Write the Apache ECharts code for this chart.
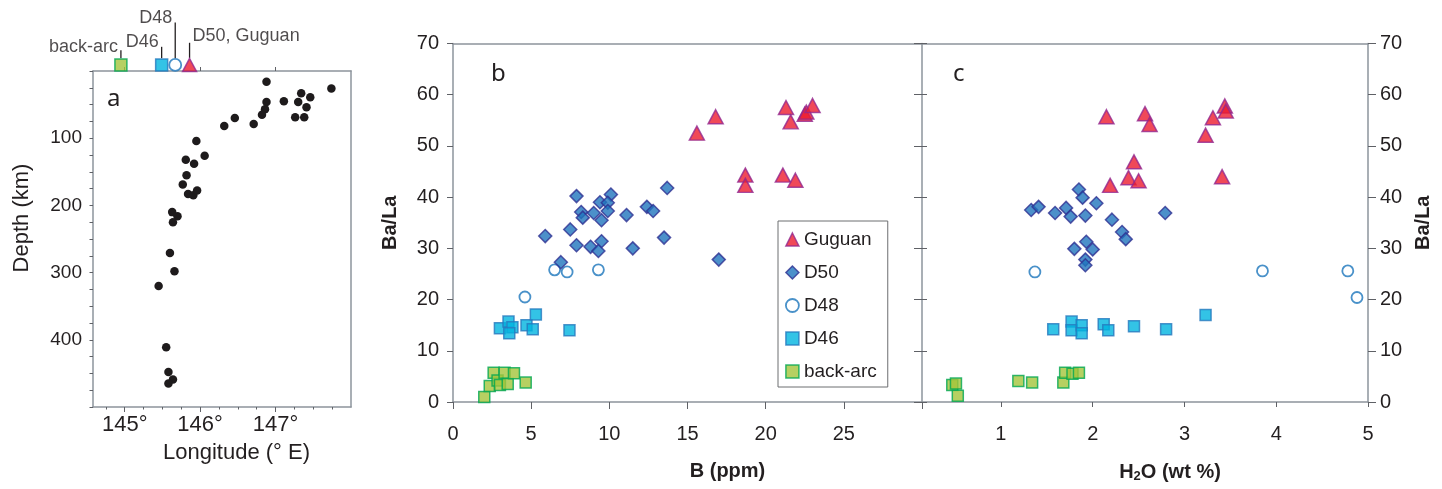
<!DOCTYPE html>
<html><head><meta charset="utf-8">
<script src="https://cdn.jsdelivr.net/npm/echarts@6/dist/echarts.min.js"></script>
<style>html,body{margin:0;padding:0;background:#fff}#c{width:1442px;height:489px}</style>
</head><body><div id="c"></div>
<script>
// ---------- DATA ----------
// Panel a: earthquake hypocentres
const quakeLon = [146.88,147.74,147.34,147.46,147.11,146.88,147.30,147.41,146.86,146.82,147.26,147.38,146.46,146.32,146.71,145.95,146.06,145.81,145.92,145.82,145.77,145.84,145.91,145.96,145.63,145.70,145.64,145.60,145.66,145.45,145.55,145.58,145.64,145.58];
const quakeDepth = [16,26,33,39,45,46,46,54,57,65,69,69,70,82,79,104,126,132,138,155,169,183,185,178,210,216,225,271,298,320,411,448,459,465];
// Panel a: sample locations above the frame
const siteLon = [144.95,145.49,145.67,145.86];
const siteKeys = ['back-arc','D46','D48','Guguan'];
const siteLabel = ['back-arc','D46','D48','D50, Guguan'];
const siteLabelDepth = [-31,-36,-72,-42];
const siteMarkDepth = -9;
// Panel b: B (ppm) vs Ba/La
const guguanB = [[15.6,52.5],[16.8,55.7],[21.3,57.5],[21.6,54.7],[22.5,56.2],[22.6,56.6],[23.0,57.9],[18.7,44.3],[18.7,42.3],[21.1,44.3],[21.9,43.3]];
const d50B = [[13.7,41.8],[7.9,40.2],[10.1,40.5],[9.4,39.0],[9.9,38.9],[8.2,37.1],[9.0,36.9],[9.9,37.3],[8.3,36.0],[9.5,35.5],[11.1,36.5],[12.4,38.1],[12.8,37.3],[5.9,32.4],[7.5,33.7],[13.5,32.1],[7.9,30.6],[8.8,30.3],[9.5,31.4],[9.3,29.5],[11.5,30.0],[6.9,27.3],[17.0,27.8]];
const d48B = [[6.5,25.8],[7.3,25.4],[9.3,25.8],[4.6,20.5]];
const d46B = [[3.0,14.4],[3.55,15.7],[3.8,14.6],[3.6,13.4],[4.7,15.0],[5.1,14.2],[5.3,17.1],[7.45,14.0]];
const backarcB = [[2.0,1.0],[2.35,3.1],[2.6,5.7],[2.85,4.2],[3.0,3.3],[3.3,5.7],[3.5,3.5],[3.9,5.6],[4.65,3.8]];
// Panel c: H2O (wt %) vs Ba/La
const guguanH = [[2.15,55.7],[2.57,56.3],[2.62,54.2],[2.45,46.9],[2.39,43.8],[2.50,43.2],[2.19,42.3],[3.23,52.1],[3.31,55.5],[3.44,57.8],[3.45,56.8],[3.41,44.0]];
const d50H = [[1.85,41.5],[1.89,39.9],[2.04,38.8],[1.33,37.5],[1.41,38.1],[1.59,36.9],[1.71,37.9],[1.76,36.2],[1.92,36.4],[2.21,35.6],[2.32,33.2],[2.36,31.8],[1.80,29.9],[1.93,31.3],[2.0,29.8],[1.92,27.8],[1.92,26.7],[2.79,36.9]];
const d48H = [[1.37,25.4],[3.85,25.6],[4.78,25.6],[4.88,20.4]];
const d46H = [[1.57,14.2],[1.77,15.7],[1.77,14.0],[1.88,15.0],[1.88,13.4],[2.12,15.2],[2.17,14.0],[2.45,14.8],[2.80,14.2],[3.23,17.0]];
const backarcH = [[0.47,3.3],[0.51,3.6],[0.53,1.2],[1.19,4.1],[1.34,3.8],[1.68,3.8],[1.70,5.7],[1.78,5.5],[1.85,5.7]];
// Tick values
const lonTicks = [145,146,147];
const lonMinor = [144.75,145.25,145.5,145.75,146.25,146.5,146.75,147.25,147.5,147.75];
const depthLabels = [100,200,300,400];
const bTicks = [0,5,10,15,20,25,30];
const bLabels = [0,5,10,15,20,25];
const hTicks = [1,2,3,4,5];
const legendOrder = ['Guguan','D50','D48','D46','back-arc'];

// ---------- STYLE ----------
const TXT = '#231f20';
const AX = '#8d949c';
const TK = '#5f6166';
const FF = '"Liberation Sans", Arial, sans-serif';
const sty = {
  'Guguan':  {symbol:'triangle', symbolSize:[15,14], itemStyle:{color:'#ec1c2e', borderColor:'#92278f', borderWidth:1.5}},
  'D50':     {symbol:'diamond', symbolSize:13, itemStyle:{color:'#1f74bd', borderColor:'#2e3192', borderWidth:1.5}},
  'D48':     {symbol:'circle', symbolSize:11, itemStyle:{color:'#ffffff', borderColor:'#1c75bc', borderWidth:1.8}},
  'D46':     {symbol:'rect', symbolSize:11, itemStyle:{color:'#00b4e0', borderColor:'#2679be', borderWidth:1.5}},
  'back-arc':{symbol:'rect', symbolSize:11, itemStyle:{color:'#a4c43b', borderColor:'#00a651', borderWidth:1.5}}
};

function line(show){ return {show:show!==false, onZero:false, lineStyle:{color:AX, width:1.5}}; }
function noTick(){ return {show:false}; }

const xAxis = [
  // panel a bottom
  {gridIndex:0, type:'value', position:'bottom', min:144.58, max:148, axisLine:line(),
   axisTick:{show:true, customValues:lonTicks, length:5, lineStyle:{color:TK}},
   axisLabel:{customValues:lonTicks, formatter:v=>v+'°', fontSize:22, color:TXT, fontFamily:FF, margin:7},
   splitLine:{show:false},
   name:'Longitude (° E)', nameLocation:'middle', nameGap:35,
   nameTextStyle:{fontSize:22, color:TXT, fontFamily:FF, padding:[0,0,0,29]}},
  // panel a bottom minor ticks
  {gridIndex:0, type:'value', position:'bottom', min:144.58, max:148, axisLine:line(false),
   axisTick:{show:true, customValues:lonMinor, length:2.5, lineStyle:{color:TK}},
   axisLabel:{show:false}, splitLine:{show:false}},
  // panel a top
  {gridIndex:0, type:'value', position:'top', min:144.58, max:148, axisLine:line(),
   axisTick:{show:true, customValues:lonTicks, length:4, lineStyle:{color:TK}},
   axisLabel:{show:false}, splitLine:{show:false}},
  // panel b bottom
  {gridIndex:1, type:'value', position:'bottom', min:0, max:30, axisLine:line(),
   axisTick:{show:true, customValues:bTicks, length:7, lineStyle:{color:TK}},
   axisLabel:{customValues:bLabels, fontSize:20, color:TXT, fontFamily:FF, margin:22},
   splitLine:{show:false},
   name:'B (ppm)', nameLocation:'middle', nameGap:59,
   nameTextStyle:{fontSize:20, fontWeight:'bold', color:TXT, fontFamily:FF, padding:[0,0,0,80]}},
  // panel b top
  {gridIndex:1, type:'value', position:'top', min:0, max:30, axisLine:line(), axisTick:noTick(), axisLabel:{show:false}, splitLine:{show:false}},
  // panel c bottom
  {gridIndex:2, type:'value', position:'bottom', min:0.14, max:5, axisLine:line(),
   axisTick:{show:true, customValues:hTicks, length:5, lineStyle:{color:TK}},
   axisLabel:{customValues:hTicks, fontSize:20, color:TXT, fontFamily:FF, margin:22},
   splitLine:{show:false},
   name:'{m|H}{s|2}{m|O (wt %)}', nameLocation:'middle', nameGap:59,
   nameTextStyle:{color:TXT, fontFamily:FF, padding:[0,0,0,50],
     rich:{m:{fontSize:20, fontWeight:'bold', color:TXT, fontFamily:FF},
           s:{fontSize:13, fontWeight:'bold', color:TXT, fontFamily:FF, padding:[9,0,0,0]}}}},
  // panel c top
  {gridIndex:2, type:'value', position:'top', min:0.14, max:5, axisLine:line(), axisTick:noTick(), axisLabel:{show:false}, splitLine:{show:false}}
];

const yAxis = [
  // panel a left
  {gridIndex:0, type:'value', position:'left', min:0, max:500, interval:100, inverse:true, axisLine:line(),
   axisTick:{show:true, length:3.5, lineStyle:{color:TK}},
   minorTick:{show:true, splitNumber:4, length:3.5, lineStyle:{color:TK}},
   axisLabel:{customValues:depthLabels, fontSize:19, color:TXT, fontFamily:FF, margin:11},
   splitLine:{show:false}, minorSplitLine:{show:false},
   name:'Depth (km)', nameLocation:'middle', nameGap:60, nameRotate:90,
   nameTextStyle:{fontSize:22, color:TXT, fontFamily:FF, padding:[0,0,0,42]}},
  // panel a right
  {gridIndex:0, type:'value', position:'right', min:0, max:500, inverse:true, axisLine:line(), axisTick:noTick(), axisLabel:{show:false}, splitLine:{show:false}},
  // panel b left
  {gridIndex:1, type:'value', position:'left', min:0, max:70, interval:10, axisLine:line(),
   axisTick:{show:true, length:6, lineStyle:{color:TK}},
   axisLabel:{fontSize:20, color:TXT, fontFamily:FF, margin:14},
   splitLine:{show:false},
   name:'Ba/La', nameLocation:'middle', nameGap:53, nameRotate:90,
   nameTextStyle:{fontSize:20, fontWeight:'bold', color:TXT, fontFamily:FF}},
  // panel c left (outer ticks)
  {gridIndex:2, type:'value', position:'left', min:0, max:70, interval:10, axisLine:line(),
   axisTick:{show:true, length:8, lineStyle:{color:TK}}, axisLabel:{show:false}, splitLine:{show:false}},
  // panel c left (inner ticks)
  {gridIndex:2, type:'value', position:'left', min:0, max:70, interval:10, axisLine:line(false),
   axisTick:{show:true, inside:true, length:5, lineStyle:{color:TK}}, axisLabel:{show:false}, splitLine:{show:false}},
  // panel c right
  {gridIndex:2, type:'value', position:'right', min:0, max:70, interval:10, axisLine:line(),
   axisTick:{show:true, length:8, lineStyle:{color:TK}},
   axisLabel:{fontSize:20, color:TXT, fontFamily:FF, margin:12},
   splitLine:{show:false},
   name:'Ba/La', nameLocation:'middle', nameGap:45, nameRotate:90,
   nameTextStyle:{fontSize:20, fontWeight:'bold', color:TXT, fontFamily:FF}}
];

const series = [];
// panel a quakes
series.push({type:'scatter', name:'quakes', xAxisIndex:0, yAxisIndex:0,
  data: quakeLon.map((l,i)=>[l, quakeDepth[i]]), symbol:'circle', symbolSize:8.5,
  itemStyle:{color:'#1e1b1c', opacity:1}, silent:true});
// panel a site markers, leader lines and labels
siteLon.forEach((lon,i)=>{
  series.push({type:'line', name:'lead'+i, xAxisIndex:0, yAxisIndex:0, clip:false, silent:true,
    symbol:'none', data:[[lon, siteMarkDepth-10],[lon, siteLabelDepth[i]]],
    lineStyle:{color:'#231f20', width:1.3}});
  const pos = i===3 ? 'right' : 'left';
  const off = i===3 ? [0,-7] : (i===0 ? [0,-3] : [0,-5]);
  series.push({type:'scatter', name:'lab'+i, xAxisIndex:0, yAxisIndex:0, clip:false, silent:true,
    data:[[lon, siteLabelDepth[i]]], symbolSize:0,
    label:{show:true, formatter:siteLabel[i], position:pos, distance:3, offset:off,
      fontSize:18, color:TXT, fontFamily:FF}});
});
siteLon.forEach((lon,i)=>{
  const s = sty[siteKeys[i]];
  series.push({type:'scatter', name:'site'+i, xAxisIndex:0, yAxisIndex:0, clip:false, silent:true,
    data:[[lon, siteMarkDepth]], symbol:s.symbol, symbolSize: i===3 ? [14,13] : 12, itemStyle:s.itemStyle, z:5});
});
// panels b and c
const bSets = {'back-arc':backarcB, 'D46':d46B, 'D48':d48B, 'D50':d50B, 'Guguan':guguanB};
const cSets = {'back-arc':backarcH, 'D46':d46H, 'D48':d48H, 'D50':d50H, 'Guguan':guguanH};
['back-arc','D46','D48','D50','Guguan'].forEach(k=>{
  const s = sty[k];
  series.push({type:'scatter', name:k, xAxisIndex:3, yAxisIndex:2, data:bSets[k],
    symbol:s.symbol, symbolSize:s.symbolSize, itemStyle:s.itemStyle});
  series.push({type:'scatter', name:k, xAxisIndex:5, yAxisIndex:5, data:cSets[k],
    symbol:s.symbol, symbolSize:s.symbolSize, itemStyle:s.itemStyle});
});

const iconMap = {'Guguan':'triangle','D50':'diamond','D48':'circle','D46':'rect','back-arc':'rect'};

const option = {
  animation:false,
  backgroundColor:'#ffffff',
  grid:[
    {left:93, top:71, width:258, height:336},
    {left:453, top:43.5, width:469, height:358.5},
    {left:922, top:43.5, width:446, height:358.5}
  ],
  xAxis, yAxis, series,
  legend:{
    orient:'vertical', left:778, top:221, padding:[9,11,6,7], itemGap:14,
    itemWidth:13, itemHeight:13, borderColor:'#6d6e71', borderWidth:1,
    backgroundColor:'#ffffff', selectedMode:false,
    textStyle:{fontSize:19, color:TXT, fontFamily:FF},
    data: legendOrder.map(k=>({name:k, icon:iconMap[k], itemStyle:sty[k].itemStyle}))
  },
  graphic:[
    {type:'text', left:107, top:87, style:{text:'a', font:'24px "Noto Sans"', fill:TXT}},
    {type:'text', left:491, top:62, style:{text:'b', font:'24px "Noto Sans"', fill:TXT}},
    {type:'text', left:953, top:62, style:{text:'c', font:'24px "Noto Sans"', fill:TXT}}
  ]
};
const chart = echarts.init(document.getElementById('c'), null, {renderer:'canvas'});
chart.setOption(option);
</script></body></html>
